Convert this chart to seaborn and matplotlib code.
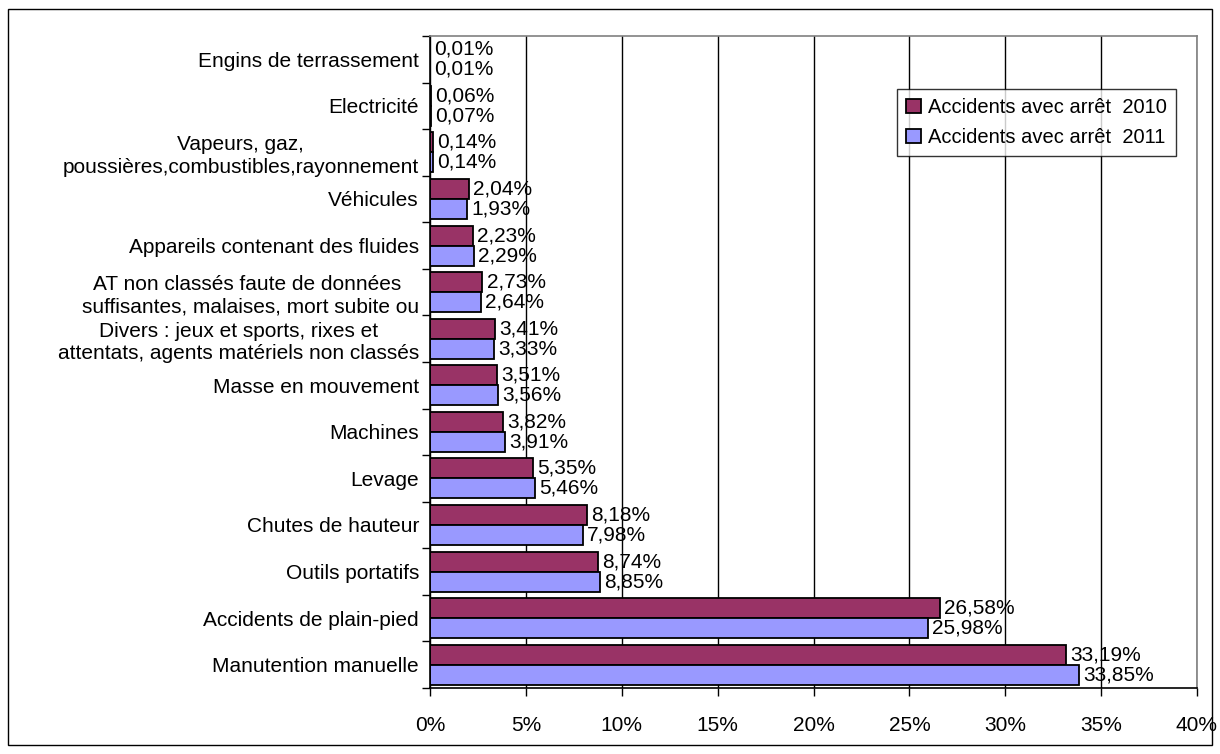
import matplotlib
matplotlib.use("Agg")
import matplotlib.pyplot as plt
import seaborn as sns
import pandas as pd
import numpy as np
from matplotlib.patches import Rectangle
from matplotlib.ticker import FixedLocator, FuncFormatter

categories = [
    "Engins de terrassement",
    "Electricité",
    "Vapeurs, gaz,\npoussières,combustibles,rayonnement",
    "Véhicules",
    "Appareils contenant des fluides",
    "AT non classés faute de données \nsuffisantes, malaises, mort subite ou",
    "Divers : jeux et sports, rixes et\nattentats, agents matériels non classés",
    "Masse en mouvement",
    "Machines",
    "Levage",
    "Chutes de hauteur",
    "Outils portatifs",
    "Accidents de plain-pied",
    "Manutention manuelle",
]
values_2010 = [0.01, 0.06, 0.14, 2.04, 2.23, 2.73, 3.41, 3.51, 3.82, 5.35, 8.18, 8.74, 26.58, 33.19]
values_2011 = [0.01, 0.07, 0.14, 1.93, 2.29, 2.64, 3.33, 3.56, 3.91, 5.46, 7.98, 8.85, 25.98, 33.85]
series_names = ["Accidents avec arrêt  2010", "Accidents avec arrêt  2011"]
series_colors = ["#993366", "#9999FF"]
xticks = [0, 5, 10, 15, 20, 25, 30, 35, 40]

sns.set_theme(style="white")
plt.rcParams["font.family"] = ["Liberation Sans", "DejaVu Sans"]
plt.rcParams["text.color"] = "black"
plt.rcParams["xtick.color"] = "black"
plt.rcParams["ytick.color"] = "black"
FS = 15
LFS = 14.5

df = pd.DataFrame({
    "cat": categories * 2,
    "val": values_2010 + values_2011,
    "series": [series_names[0]] * len(categories) + [series_names[1]] * len(categories),
})

W, H = 1220, 754
fig = plt.figure(figsize=(W / 100, H / 100), dpi=100)
ax = fig.add_axes([430 / W, 1 - 688 / H, (1197 - 430) / W, (688 - 36) / H])

sns.barplot(data=df, y="cat", x="val", hue="series", order=categories,
            hue_order=series_names, palette=series_colors, saturation=1,
            width=0.86, edgecolor="black", linewidth=1.3, orient="h", ax=ax)

for cont in ax.containers:
    labs = [f"{v:.2f}".replace(".", ",") + "%" for v in cont.datavalues]
    ax.bar_label(cont, labels=labs, padding=3, fontsize=FS, color="black")

ax.set_xlim(0, 40)
ax.set_ylim(len(categories) - 0.5, -0.5)
ax.xaxis.set_major_locator(FixedLocator(xticks))
ax.xaxis.set_major_formatter(FuncFormatter(lambda v, p: f"{v:.0f}%"))
ax.set_axisbelow(True)
ax.xaxis.grid(True, color="black", linewidth=1)
ax.yaxis.grid(False)
ax.set_xlabel("")
ax.set_ylabel("")
ax.tick_params(axis="x", which="major", length=6, width=1, color="black",
               labelsize=FS, labelcolor="black", pad=14, direction="out", bottom=True)
ax.tick_params(axis="y", which="major", length=0, labelsize=FS, labelcolor="black", pad=8)
ax.yaxis.set_minor_locator(FixedLocator(np.arange(-0.5, len(categories), 1.0)))
ax.tick_params(axis="y", which="minor", length=6, width=1, color="black", left=True)
for lab in ax.get_yticklabels():
    lab.set_multialignment("center")
    lab.set_linespacing(1.25)

for side in ["left", "bottom"]:
    ax.spines[side].set_color("black")
    ax.spines[side].set_linewidth(1.2)
for side in ["top", "right"]:
    ax.spines[side].set_color("#808080")
    ax.spines[side].set_linewidth(1.2)

leg = ax.legend(loc="upper left", bbox_to_anchor=(897 / W, 1 - 89 / H),
                bbox_transform=fig.transFigure, frameon=True, fancybox=False,
                edgecolor="black", fontsize=LFS, handlelength=0.75, handleheight=0.75,
                handletextpad=0.35, borderpad=0.45, labelspacing=0.55, borderaxespad=0)
leg.get_frame().set_linewidth(1)
for t in leg.get_texts():
    t.set_color("black")
for h in leg.legend_handles:
    h.set_edgecolor("black")
    h.set_linewidth(1.3)

fig.patches.append(Rectangle((8 / W, 1 - 745 / H), (1212 - 8) / W, (745 - 9) / H,
                             transform=fig.transFigure, fill=False,
                             edgecolor="black", linewidth=1))

fig.savefig("out.png", dpi=100)
